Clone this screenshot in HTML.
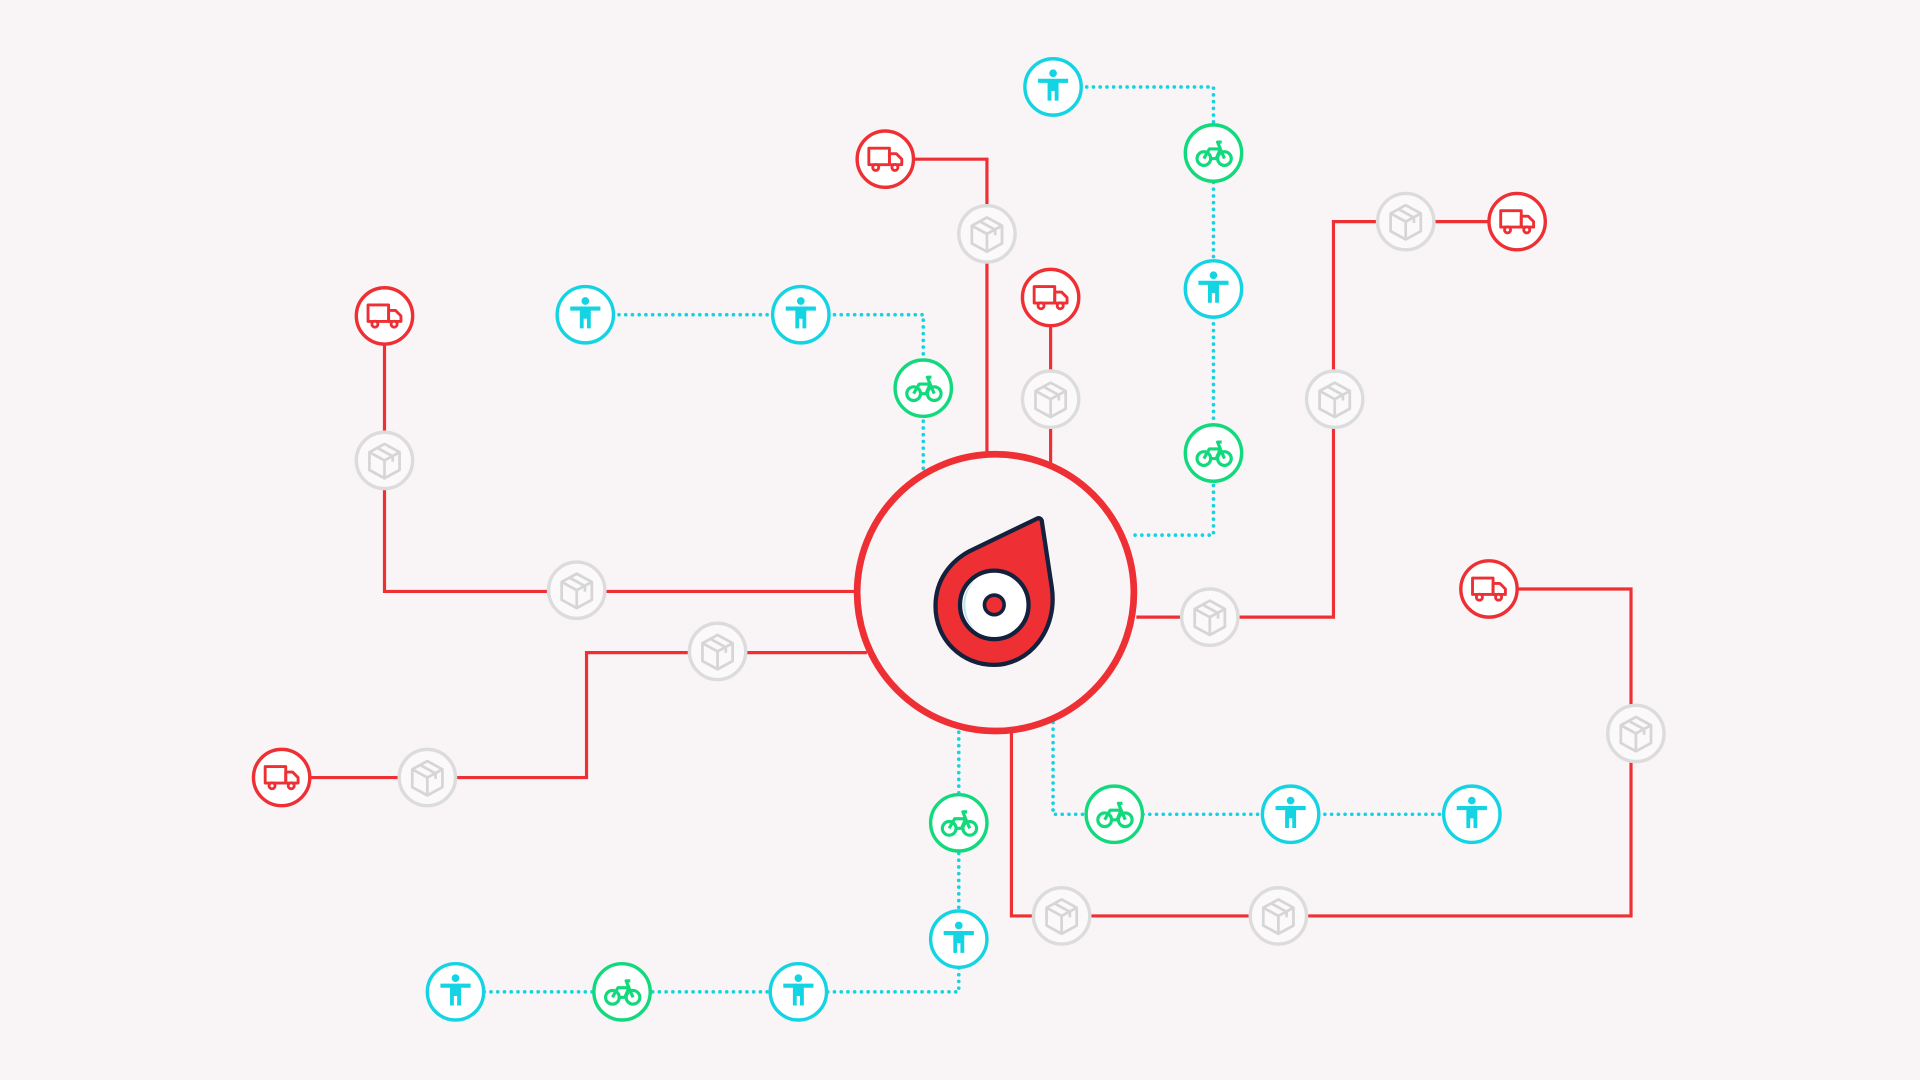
<!DOCTYPE html>
<html><head><meta charset="utf-8"><style>html,body{margin:0;padding:0;background:#f9f5f6;width:1920px;height:1080px;overflow:hidden}</style></head>
<body>
<svg width="1920" height="1080" viewBox="0 0 1568 882" xmlns="http://www.w3.org/2000/svg">
<defs>
<g id="truck"><circle r="23" fill="#fff" stroke="#ee3035" stroke-width="2.8"/>
<g transform="scale(1.12)" fill="none" stroke="#ee3035" stroke-width="2.1" stroke-linejoin="round"><rect x="-12" y="-8" width="15" height="12"/><path d="M3 -4 H8 L12 0 V4 H3 Z"/><circle cx="-7" cy="6" r="2.2" fill="#fff"/><circle cx="7" cy="6" r="2.2" fill="#fff"/></g></g>
<g id="box"><circle r="23" fill="#fbf9fa" stroke="#dcdcdc" stroke-width="2.8"/>
<g transform="scale(1.12)" fill="none" stroke="#d6d6d6" stroke-width="2" stroke-linejoin="round"><path d="M0 -12 L11 -6 V7 L0 13 L-11 7 V-6 Z"/><path d="M-11 -6 L0 0 L11 -6 M0 0 V13 M-5 -9 L6 -3 V1"/></g></g>
<g id="person"><circle r="23" fill="#fff" stroke="#14d4e4" stroke-width="2.8"/>
<g transform="scale(1.12)" fill="#14d4e4"><circle cx="0" cy="-10" r="2.8"/><path d="M-11 -6 H11 V-3 L4 -3 V10 H1.2 V3 H-1.2 V10 H-4 V-3 L-11 -3 Z"/></g></g>
<g id="bike"><circle r="23" fill="#fff" stroke="#12d97c" stroke-width="2.8"/>
<g transform="scale(1.12)" fill="none" stroke="#12d97c" stroke-width="2.3" stroke-linejoin="round"><circle cx="-7" cy="4" r="5"/><circle cx="8" cy="4" r="5"/><path d="M-7 4 L-3 -3 H5 L8 4 M5 -3 L3 -8 H6 M-3 4 H2 L5 -3"/></g></g>
</defs>
<g fill="none" stroke="#ee3035" stroke-width="2.6">
<path d="M314 258 V483 H700"/>
<path d="M723 130 H806 V372"/>
<path d="M858 243 V378"/>
<path d="M1239 181 H1089 V504 H928"/>
<path d="M230 635 H479 V533 H708"/>
<path d="M1216 481 H1332 V748 H826 V598"/>
</g>
<g fill="none" stroke="#14d4e4" stroke-width="3" stroke-dasharray="0 5.5" stroke-linecap="round">
<path d="M860 71 H991 V437 H922"/>
<path d="M478 257 H754 V384"/>
<path d="M783 598 V810 H372"/>
<path d="M860 590 V665 H1202"/>
</g>
<circle cx="813" cy="484" r="113" fill="#f9f5f6" stroke="#ee3035" stroke-width="5.5"/>
<g stroke="#14213d" stroke-width="3.5" stroke-linejoin="round">
<path d="M846 424 C849 422 851 424 851 427 L859 480 C864 515 840 543 812 543 C785 543 764 522 764 495 C764 473 777 458 792 450 Z" fill="#ee3035"/>
<circle cx="812" cy="494" r="28" fill="#fff"/>
<circle cx="812" cy="494" r="8" fill="#ee3035" stroke-width="3"/>
</g>
<path d="M796 474 A26 26 0 0 0 796 514 A30 30 0 0 1 796 474Z" fill="#bde3ea"/>
<use href="#truck" x="314" y="258"/><use href="#box" x="314" y="376"/><use href="#box" x="471" y="482"/>
<use href="#truck" x="723" y="130"/><use href="#box" x="806" y="191"/>
<use href="#truck" x="858" y="243"/><use href="#box" x="858" y="326"/>
<use href="#truck" x="1239" y="181"/><use href="#box" x="1148" y="181"/><use href="#box" x="1090" y="326"/><use href="#box" x="988" y="504"/>
<use href="#truck" x="230" y="635"/><use href="#box" x="349" y="635"/><use href="#box" x="586" y="532"/>
<use href="#truck" x="1216" y="481"/><use href="#box" x="1336" y="599"/><use href="#box" x="1044" y="748"/><use href="#box" x="867" y="748"/>
<use href="#person" x="860" y="71"/><use href="#bike" x="991" y="125"/><use href="#person" x="991" y="236"/><use href="#bike" x="991" y="370"/>
<use href="#person" x="478" y="257"/><use href="#person" x="654" y="257"/><use href="#bike" x="754" y="317"/>
<use href="#bike" x="783" y="672"/><use href="#person" x="783" y="767"/><use href="#person" x="652" y="810"/><use href="#bike" x="508" y="810"/><use href="#person" x="372" y="810"/>
<use href="#bike" x="910" y="665"/><use href="#person" x="1054" y="665"/><use href="#person" x="1202" y="665"/>
</svg>
</body></html>
